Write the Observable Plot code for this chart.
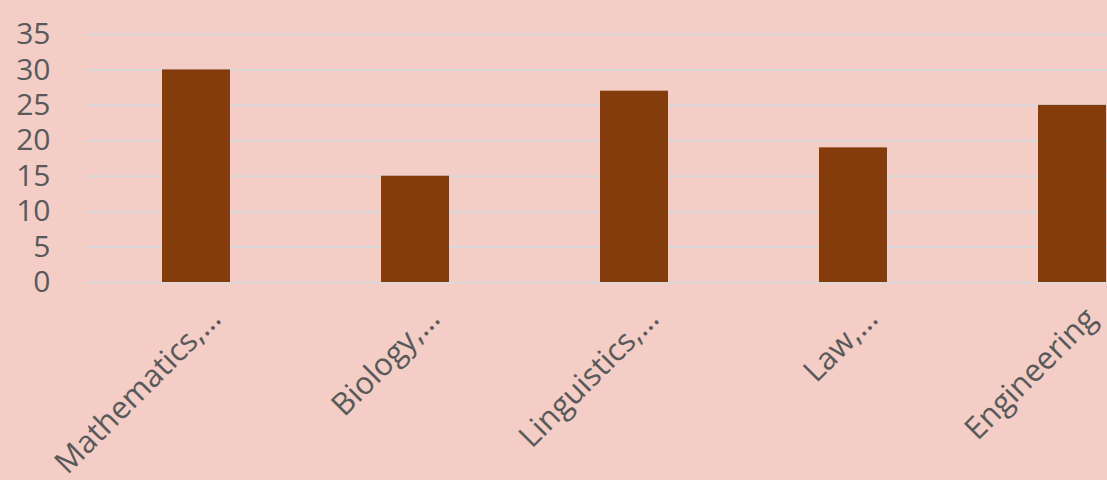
<!DOCTYPE html>
<html>
<head>
<meta charset="utf-8">
<script src="https://cdn.jsdelivr.net/npm/d3@7"></script>
<script src="https://cdn.jsdelivr.net/npm/@observablehq/plot@0.6"></script>
<style>
  html, body { margin: 0; padding: 0; background: #f3cdc6; }
  #chart svg { display: block; }
</style>
</head>
<body>
<div id="chart"></div>
<script>
const categories = ["Mathematics,…", "Biology,…", "Linguistics,…", "Law,…", "Engineering"];
const values = [30, 15, 27, 19, 25];
const yTicks = [0, 5, 10, 15, 20, 25, 30, 35];

const data = categories.map((c, i) => ({category: c, value: values[i]}));

const chart = Plot.plot({
  width: 1107,
  height: 480,
  marginTop: 34,
  marginBottom: 198,
  marginLeft: 86,
  marginRight: 0,
  style: {background: "#f3cdc6", fontFamily: "'Open Sans', sans-serif", color: "#595959", overflow: "visible"},
  x: {domain: categories, range: [86, 1182], paddingInner: 0.69, paddingOuter: 0.345},
  y: {domain: [0, 35]},
  marks: [
    Plot.gridY(yTicks, {stroke: "#d9d9d9", strokeOpacity: 1, strokeWidth: 2}),
    Plot.barY(data, {x: "category", y: "value", fill: "#843c0c"}),
    Plot.axisY(yTicks, {tickSize: 0, tickPadding: 36, fontSize: 30, label: null, fill: "#595959"}),
    Plot.axisX({tickSize: 0, tickPadding: 0, tickRotate: -45, textAnchor: "end", lineAnchor: "middle",
                dx: 19, dy: 31, fontSize: 31, label: null, fill: "#595959"})
  ]
});
document.getElementById("chart").append(chart);
</script>
</body>
</html>
